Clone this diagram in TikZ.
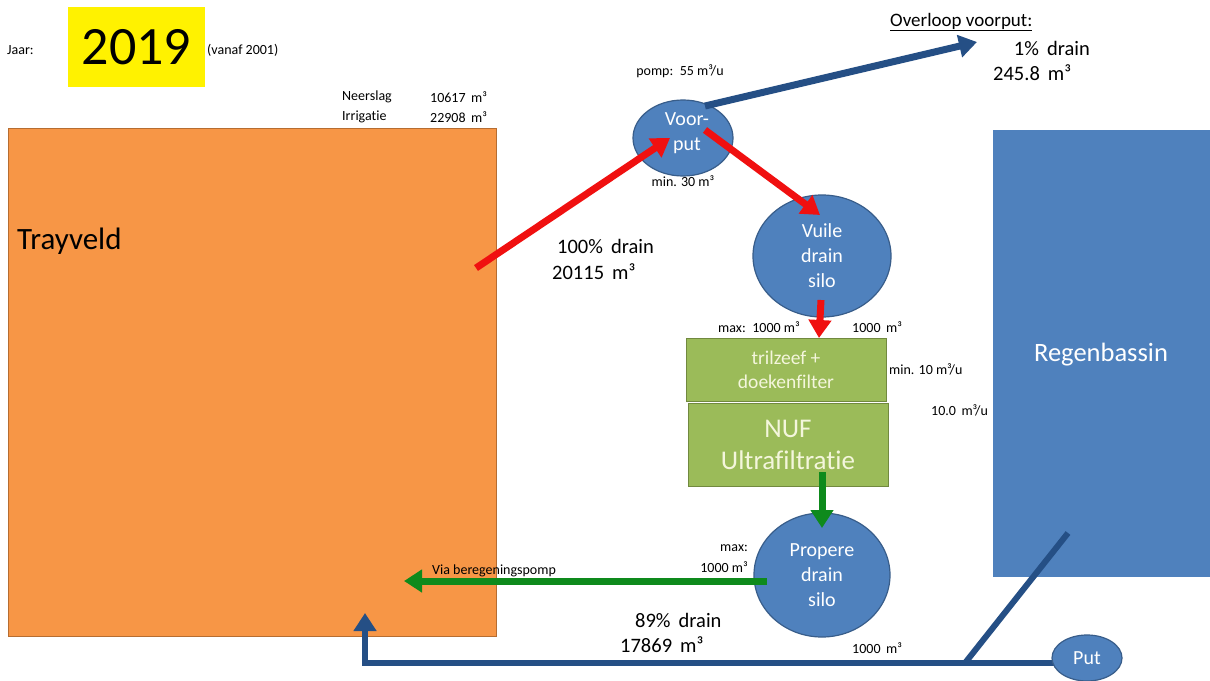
\documentclass[tikz,border=0pt]{standalone}
\usepackage{fontspec}
\setmainfont{Carlito}[Ligatures=NoCommon]
\usetikzlibrary{arrows.meta,shapes.geometric}
\definecolor{orangef}{HTML}{F79646}
\definecolor{oranged}{HTML}{B66D31}
\definecolor{bluef}{HTML}{4F81BD}
\definecolor{blued}{HTML}{385D8A}
\definecolor{navy}{HTML}{254F85}
\definecolor{greenf}{HTML}{9BBB59}
\definecolor{greend}{HTML}{71893F}
\definecolor{redc}{HTML}{F01010}
\definecolor{greenc}{HTML}{0E8A1C}
\definecolor{lighttxt}{HTML}{F4F6DC}
\tikzset{
  fs/.style n args={2}{font=\fontsize{#1}{#2}\selectfont},
  lbl/.style={fs={14}{17}, text=black, inner sep=0pt},
  big/.style={fs={20.5}{24}, text=black, inner sep=0pt},
  tank/.style={ellipse, draw=blued, line width=1.2pt, fill=bluef, text=white, align=center, inner sep=0pt},
  filterbox/.style={draw=greend, line width=1pt, fill=greenf, text=lighttxt, align=center},
  flow/.style={line width=7pt, -{Triangle[length=18pt,width=22pt]}},
}
\begin{document}
\begin{tikzpicture}[x=1pt,y=-1pt]
\useasboundingbox (0,0) rectangle (1210,680);
\fill[white] (0,0) rectangle (1210,680);

% header
\node[fill=yellow, minimum width=137pt, minimum height=80pt, inner sep=0pt] (year) at (136.5,47) {\fontsize{54}{60}\selectfont 2019};
\node[lbl, anchor=west] (jaar) at (7,50) {Jaar:};
\node[lbl, anchor=west] (vanaf) at (207,50) {(vanaf 2001)};
\node[lbl, anchor=west] (neer) at (342,97) {Neerslag};
\node[lbl, anchor=west] (neerv) at (430,97) {10617\, m³};
\node[lbl, anchor=west] (irr) at (342,117) {Irrigatie};
\node[lbl, anchor=west] (irrv) at (430,117) {22908\, m³};

% fields
\draw[fill=orangef, draw=oranged, line width=1pt] (8,128) rectangle (496,636);
\node[fs={31}{36}, anchor=west, inner sep=0pt] (tray) at (17,241) {Trayveld};
\fill[bluef] (993,130) rectangle (1210,577);
\node[fs={26.5}{30}, text=white, inner sep=0pt] (regen) at (1101,355) {Regenbassin};

% blue return line (behind put)
\coordinate (putw) at (1060,663);
\coordinate (ret) at (365,613);
\coordinate (corner) at (365,663);
\coordinate (join) at (965,663);
\coordinate (bassin) at (1068,533);
\draw[line width=6pt, navy] (putw) -- (join);
\draw[line width=6pt, navy, -{Triangle[length=18pt,width=22pt]}] (join) -- (corner) -- (ret);
\draw[line width=6pt, navy] (join) -- (bassin);

% tanks
\node[tank, minimum width=100pt, minimum height=76pt, fs={20}{25}] (voorput) at (683,138) {\hspace*{8pt}Voor-\\\hspace*{8pt}put\rule[-12pt]{0pt}{1pt}};
\node[tank, minimum width=138pt, minimum height=122pt, fs={20}{25}] (vuile) at (822,256) {Vuile\\drain\\silo};
\node[tank, minimum width=136pt, minimum height=124pt, fs={20}{25}] (propere) at (822,575) {Propere\\drain\\silo};
\node[tank, minimum width=70pt, minimum height=46pt, fs={20}{24}] (put) at (1087,658) {Put};

% filters
\node[filterbox, minimum width=200pt, minimum height=63pt, fs={19.5}{24}, inner sep=0pt] (tril) at (786,369.5) {trilzeef +\\doekenfilter};
\node[filterbox, minimum width=200pt, minimum height=83pt, fs={27}{32}, inner sep=0pt] (nuf) at (788,444.5) {NUF\\Ultrafiltratie};

% labels
\node[lbl] (pomp) at (680,71) {pomp:\, 55 m³/u};
\node[lbl] (min30) at (683,181) {min. 30 m³};
\node[fs={19}{22}, anchor=west, inner sep=0pt] (overloop) at (890,22) {\underline{Overloop voorput:}};
\node[big, anchor=east] (pct1) at (1090,48) {1\%\, drain};
\node[big, anchor=west] (v1) at (993,73) {245.8\, m³};
\node[big, anchor=west] (pct100) at (557,246) {100\%\, drain};
\node[big, anchor=west] (v100) at (552,272) {20115\, m³};
\node[lbl, anchor=west] (max1) at (718,327) {max:\, 1000 m³};
\node[lbl, anchor=west] (cap1) at (852,327) {1000\, m³};
\node[lbl, anchor=west] (min10) at (889,369) {min. 10 m³/u};
\node[lbl, anchor=west] (rate) at (931,410) {10.0\, m³/u};
\node[lbl, anchor=east] (max2) at (748,548) {max:};
\node[lbl, anchor=east] (max2v) at (748,567) {1000 m³};
\node[big, anchor=west] (pct89) at (635,620) {89\%\, drain};
\node[big, anchor=west] (v89) at (620,645) {17869\, m³};
\node[lbl, anchor=west] (cap2) at (852,648) {1000\, m³};

% flows
\coordinate (trayout) at (476,268);
\coordinate (vpin) at (670,138);
\coordinate (vpout) at (705,130);
\coordinate (vuin) at (820,215);
\coordinate (vuout) at (821,300);
\coordinate (trin) at (819,338);
\coordinate (overstart) at (705,106);
\coordinate (overend) at (977,42);
\coordinate (nufout) at (822,472);
\coordinate (prin) at (822,528);
\coordinate (prout) at (767,581);
\coordinate (greentip) at (404,581);

\draw[flow, redc] (trayout) -- (vpin);
\draw[flow, redc] (vpout) -- (vuin);
\draw[flow, redc] (vuout) -- (trin);
\draw[flow, navy] (overstart) -- (overend);
\draw[flow, greenc] (nufout) -- (prin);
\draw[flow, greenc] (prout) -- (greentip);
\node[lbl, anchor=west] (via) at (432,571) {Via beregeningspomp};
\end{tikzpicture}
\end{document}
